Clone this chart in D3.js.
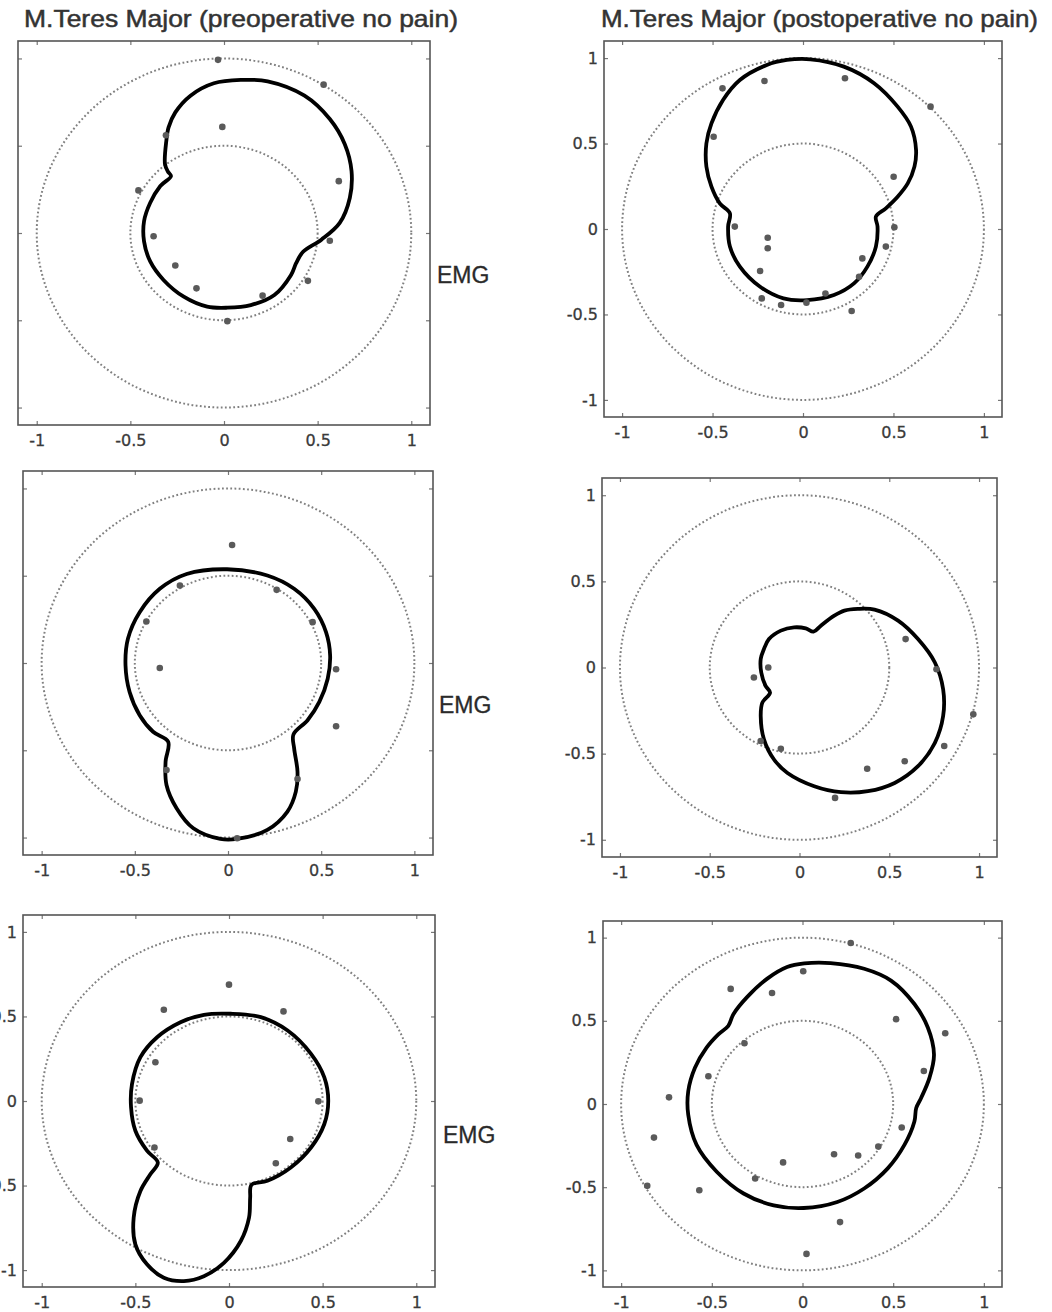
<!DOCTYPE html>
<html>
<head>
<meta charset="utf-8">
<script src="https://cdn.jsdelivr.net/npm/d3@7"></script>
<style>
  body { margin: 0; background: #fff; }
  svg { display: block; }
  .frame { fill: none; stroke: #555; stroke-width: 1.6; }
  .axis line { stroke: #777; stroke-width: 1.2; }
  .axis text { font-family: "DejaVu Sans", sans-serif; font-size: 16px; fill: #3a3a3a; stroke: #3a3a3a; stroke-width: 0.3; }
  .ref { fill: none; stroke: #808080; stroke-width: 2; stroke-dasharray: 1.8 2.4; }
  .emg { fill: none; stroke: #000; stroke-width: 3.8; stroke-linejoin: round; }
  .dot { fill: #5a5a5a; }
  .title { font-family: "Liberation Sans", Arial, sans-serif; font-size: 24px; fill: #333; stroke: #333; stroke-width: 0.5; }
  .side { font-family: "Liberation Sans", Arial, sans-serif; font-size: 23px; fill: #2a2a2a; stroke: #2a2a2a; stroke-width: 0.3; }
</style>
</head>
<body>
<svg width="1052" height="1312"></svg>
<script>
const titles = ["M.Teres Major (preoperative no pain)", "M.Teres Major (postoperative no pain)"],
      sideLabel = "EMG",
      tickValues = [-1, -0.5, 0, 0.5, 1],
      tickLabels = ["-1", "-0.5", "0", "0.5", "1"],
      refRadii = [0.5, 1]

// fitted EMG curves [x, y]
const curvePre1 = [[0.09,0.877],[0.233,0.869],[0.43,0.787],[0.565,0.653],[0.645,0.509],[0.681,0.355],[0.672,0.202],[0.618,0.058],[0.52,-0.038],[0.421,-0.109],[0.385,-0.173],[0.358,-0.24],[0.269,-0.355],[0.143,-0.413],[0.018,-0.428],[-0.09,-0.422],[-0.215,-0.365],[-0.323,-0.269],[-0.394,-0.163],[-0.427,-0.048],[-0.427,0.067],[-0.394,0.173],[-0.34,0.269],[-0.283,0.326],[-0.299,0.351],[-0.315,0.393],[-0.308,0.528],[-0.296,0.605],[-0.26,0.691],[-0.179,0.787],[-0.054,0.858]]
const curvePost1 = [[0.041,0.993],[0.226,0.95],[0.393,0.853],[0.523,0.716],[0.597,0.599],[0.625,0.462],[0.616,0.365],[0.579,0.267],[0.523,0.189],[0.458,0.121],[0.403,0.072],[0.412,0.014],[0.403,-0.103],[0.356,-0.22],[0.282,-0.318],[0.171,-0.386],[0.022,-0.416],[-0.108,-0.406],[-0.237,-0.338],[-0.349,-0.22],[-0.404,-0.103],[-0.414,0.014],[-0.404,0.092],[-0.46,0.15],[-0.506,0.248],[-0.534,0.365],[-0.534,0.501],[-0.506,0.618],[-0.442,0.755],[-0.349,0.872],[-0.2,0.96],[-0.089,0.989]]
const curvePre2 = [[-0.005,0.537],[0.211,0.501],[0.355,0.425],[0.463,0.31],[0.526,0.177],[0.548,0.044],[0.535,-0.09],[0.49,-0.223],[0.427,-0.328],[0.351,-0.41],[0.355,-0.49],[0.373,-0.623],[0.364,-0.737],[0.319,-0.851],[0.211,-0.956],[0.049,-1.008],[-0.041,-1.008],[-0.186,-0.947],[-0.276,-0.832],[-0.33,-0.699],[-0.335,-0.566],[-0.321,-0.451],[-0.402,-0.394],[-0.474,-0.299],[-0.528,-0.166],[-0.55,-0.013],[-0.537,0.139],[-0.474,0.291],[-0.366,0.425],[-0.222,0.51]]
const curvePost2 = [[0.325,0.34],[0.418,0.336],[0.549,0.272],[0.66,0.165],[0.754,0.029],[0.8,-0.126],[0.8,-0.282],[0.754,-0.437],[0.66,-0.573],[0.53,-0.67],[0.381,-0.718],[0.231,-0.724],[0.082,-0.689],[-0.067,-0.612],[-0.142,-0.534],[-0.198,-0.417],[-0.216,-0.282],[-0.207,-0.204],[-0.164,-0.146],[-0.189,-0.107],[-0.213,-0.029],[-0.216,0.049],[-0.198,0.107],[-0.17,0.165],[-0.104,0.214],[-0.03,0.233],[0.035,0.227],[0.078,0.208],[0.119,0.243],[0.194,0.301],[0.25,0.33]]
const curvePre3 = [[0.009,0.516],[0.17,0.496],[0.313,0.417],[0.438,0.279],[0.509,0.14],[0.53,0.002],[0.509,-0.136],[0.438,-0.275],[0.33,-0.393],[0.205,-0.472],[0.12,-0.496],[0.113,-0.571],[0.107,-0.69],[0.063,-0.828],[-0.027,-0.957],[-0.134,-1.036],[-0.241,-1.065],[-0.348,-1.045],[-0.438,-0.966],[-0.5,-0.848],[-0.509,-0.69],[-0.473,-0.532],[-0.42,-0.433],[-0.38,-0.364],[-0.438,-0.294],[-0.5,-0.176],[-0.523,-0.038],[-0.518,0.1],[-0.473,0.259],[-0.384,0.377],[-0.259,0.466],[-0.134,0.51]]
const curvePost3 = [[0.155,0.847],[0.34,0.813],[0.488,0.742],[0.617,0.601],[0.691,0.46],[0.725,0.298],[0.7,0.157],[0.654,0.036],[0.627,-0.024],[0.617,-0.105],[0.562,-0.246],[0.47,-0.387],[0.34,-0.508],[0.192,-0.589],[0.007,-0.625],[-0.159,-0.609],[-0.325,-0.538],[-0.473,-0.407],[-0.584,-0.246],[-0.63,-0.065],[-0.63,0.077],[-0.593,0.218],[-0.529,0.339],[-0.464,0.419],[-0.409,0.47],[-0.381,0.54],[-0.307,0.641],[-0.196,0.752],[-0.085,0.823],[0.01,0.845]]

// measured EMG samples [x, y]
const dotsPre1 = [[-0.032,0.992],[0.532,0.85],[-0.009,0.608],[-0.31,0.56],[0.613,0.297],[-0.457,0.244],[-0.376,-0.019],[0.565,-0.044],[-0.26,-0.186],[0.448,-0.274],[-0.147,-0.317],[0.206,-0.359],[0.018,-0.505]]
const dotsPost1 = [[-0.445,0.823],[-0.213,0.866],[0.232,0.882],[0.705,0.716],[-0.494,0.54],[0.501,0.306],[-0.377,0.014],[0.505,0.01],[-0.195,-0.051],[-0.195,-0.113],[0.458,-0.103],[-0.237,-0.246],[0.328,-0.172],[0.31,-0.279],[-0.228,-0.406],[-0.121,-0.445],[0.019,-0.431],[0.124,-0.377],[0.269,-0.48]]
const dotsPre2 = [[0.022,0.676],[-0.258,0.444],[0.261,0.419],[-0.438,0.238],[0.454,0.234],[-0.366,-0.029],[0.58,-0.036],[0.58,-0.362],[-0.33,-0.613],[0.373,-0.665],[0.049,-1.004]]
const dotsPost2 = [[0.591,0.165],[0.763,-0.01],[-0.254,-0.058],[-0.174,0],[0.968,-0.272],[0.806,-0.456],[-0.104,-0.472],[0.586,-0.544],[0.377,-0.588],[0.198,-0.757],[-0.216,-0.427]]
const dotsPre3 = [[0,0.688],[-0.348,0.54],[0.291,0.53],[-0.393,0.229],[-0.477,0.002],[0.477,-0.002],[0.327,-0.225],[-0.398,-0.275],[0.25,-0.368]]
const dotsPost3 = [[0.266,0.968],[0.004,0.798],[-0.396,0.692],[-0.168,0.667],[0.516,0.51],[0.787,0.425],[-0.32,0.365],[-0.519,0.167],[0.669,0.198],[-0.736,0.04],[0.547,-0.141],[-0.819,-0.202],[0.418,-0.256],[0.174,-0.302],[0.307,-0.31],[-0.107,-0.351],[-0.261,-0.448],[-0.856,-0.492],[-0.569,-0.518],[0.207,-0.71],[0.022,-0.901]]

const svg = d3.select("svg")

const panels = [
  {box: [18, 41, 430, 425],   curve: curvePre1,  dots: dotsPre1,  yLabels: false, emg: [437, 283]},
  {box: [604, 41, 1002, 417], curve: curvePost1, dots: dotsPost1, yLabels: true},
  {box: [23, 471, 433, 855],  curve: curvePre2,  dots: dotsPre2,  yLabels: false, emg: [439, 713]},
  {box: [602, 478, 997, 857], curve: curvePost2, dots: dotsPost2, yLabels: true},
  {box: [23, 915, 435, 1287], curve: curvePre3,  dots: dotsPre3,  yLabels: true,  emg: [443, 1143]},
  {box: [603, 921, 1002, 1287], curve: curvePost3, dots: dotsPost3, yLabels: true}
]

svg.selectAll(".title")
  .data(titles)
  .enter().append("text")
    .attr("class", "title")
    .attr("x", (d, i) => i === 0 ? 24 : 601)
    .attr("y", 27)
    .attr("textLength", (d, i) => i === 0 ? 434 : 437)
    .attr("lengthAdjust", "spacingAndGlyphs")
    .text(d => d)

panels.forEach(function (p) {
  const [x0, y0, x1, y1] = p.box
  const x = d3.scaleLinear().domain([-1.1, 1.1]).range([x0, x1]),
        y = d3.scaleLinear().domain([-1.1, 1.1]).range([y1, y0])
  const g = svg.append("g")

  const line = d3.line()
    .x(d => x(d[0]))
    .y(d => y(d[1]))
    .curve(d3.curveCatmullRomClosed.alpha(0.5))

  g.selectAll(".ref")
    .data(refRadii)
    .enter().append("ellipse")
      .attr("class", "ref")
      .attr("cx", x(0))
      .attr("cy", y(0))
      .attr("rx", r => x(r) - x(0))
      .attr("ry", r => y(0) - y(r))

  g.append("path")
    .attr("class", "emg")
    .attr("d", line(p.curve))

  g.selectAll(".dot")
    .data(p.dots)
    .enter().append("circle")
      .attr("class", "dot")
      .attr("cx", d => x(d[0]))
      .attr("cy", d => y(d[1]))
      .attr("r", 3.3)

  const label = (d, i) => tickLabels[i]

  g.append("g")
    .attr("class", "axis")
    .attr("transform", "translate(0," + y1 + ")")
    .call(d3.axisBottom(x).tickValues(tickValues).tickSize(-4).tickPadding(10).tickFormat(label))
  g.append("g")
    .attr("class", "axis")
    .attr("transform", "translate(0," + y0 + ")")
    .call(d3.axisTop(x).tickValues(tickValues).tickSize(-4).tickFormat(""))
  g.append("g")
    .attr("class", "axis")
    .attr("transform", "translate(" + x0 + ",0)")
    .call(d3.axisLeft(y).tickValues(tickValues).tickSize(-4).tickPadding(6).tickFormat(p.yLabels ? label : ""))
  g.append("g")
    .attr("class", "axis")
    .attr("transform", "translate(" + x1 + ",0)")
    .call(d3.axisRight(y).tickValues(tickValues).tickSize(-4).tickFormat(""))

  g.selectAll(".axis .domain").remove()
  g.selectAll(".axis").attr("font-family", null).attr("font-size", null)

  g.append("rect")
    .attr("class", "frame")
    .attr("x", x0)
    .attr("y", y0)
    .attr("width", x1 - x0)
    .attr("height", y1 - y0)

  if (p.emg) {
    g.append("text")
      .attr("class", "side")
      .attr("x", p.emg[0])
      .attr("y", p.emg[1])
      .text(sideLabel)
  }
})
</script>
</body>
</html>
